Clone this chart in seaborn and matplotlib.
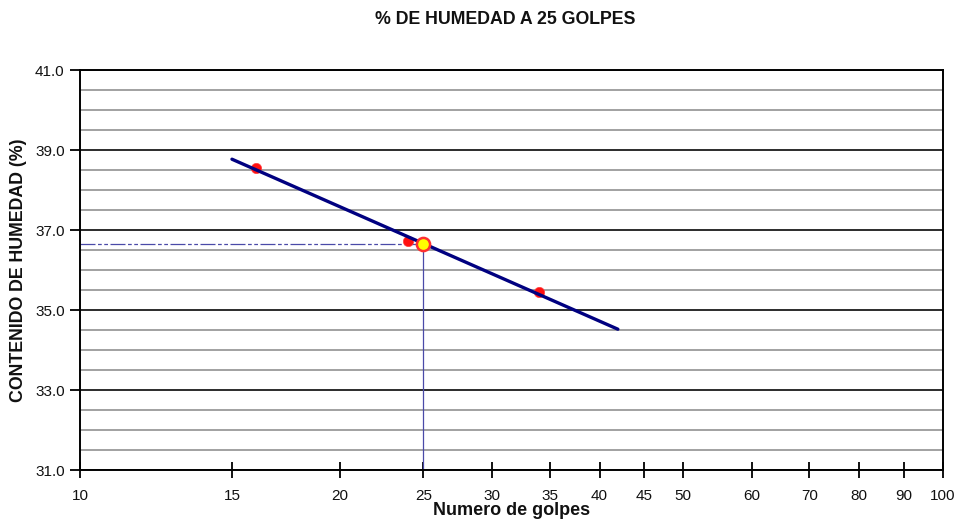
import matplotlib
matplotlib.use("Agg")
import matplotlib.pyplot as plt
import seaborn as sns
import pandas as pd
from matplotlib.ticker import FixedLocator, NullFormatter, NullLocator

# ---- data ----
golpes = [16, 24, 34]
humedad = [38.55, 36.72, 35.45]
trend_x = [15, 42]
trend_y = [38.77, 34.52]
target_x = [25]
target_y = [36.66]
x_ticks = [10, 15, 20, 25, 30, 35, 40, 45, 50, 60, 70, 80, 90, 100]
y_ticks = [31, 33, 35, 37, 39, 41]
y_minor = [31.5, 32, 32.5, 33.5, 34, 34.5, 35.5, 36, 36.5, 37.5, 38, 38.5, 39.5, 40, 40.5]

sns.set_theme(style="white")
plt.rcParams['font.family'] = ['Liberation Sans', 'DejaVu Sans']

fig = plt.figure(figsize=(9.58, 5.24), dpi=100)
ax = fig.add_axes([80/958, 1-470/524, (943-80)/958, 400/524])

ax.set_xscale('log')
ax.set_xlim(10, 100)
ax.set_ylim(31, 41)

# gridlines
for yv in y_minor:
    ax.axhline(yv, color='#9a9a9a', lw=1.3, zorder=1)
for yv in y_ticks:
    ax.axhline(yv, color='#2a2a2a', lw=1.4, zorder=1)

# guide lines to the 25-blow value
ax.plot([10, target_x[0]], [target_y[0], target_y[0]], color='#4a4aa8', lw=0.9,
        ls=(0, (12, 2, 3, 2, 3, 2)), zorder=2)
ax.plot([target_x[0], target_x[0]], [31, target_y[0]], color='#4a4aa8', lw=0.9, zorder=2)

df_pts = pd.DataFrame({'golpes': golpes, 'humedad': humedad})
df_fit = pd.DataFrame({'x': trend_x, 'y': trend_y})
df_tgt = pd.DataFrame({'x': target_x, 'y': target_y})

sns.scatterplot(data=df_pts, x='golpes', y='humedad', ax=ax, color='#ff1010',
                s=55, edgecolor='#ff4040', linewidth=0.5, zorder=3)
sns.lineplot(data=df_fit, x='x', y='y', ax=ax, color='#000080', lw=2.4, zorder=4)
sns.scatterplot(data=df_tgt, x='x', y='y', ax=ax, color='#ffff00', s=90,
                edgecolor='#ff3030', linewidth=1.8, zorder=5)

ax.xaxis.set_major_locator(FixedLocator(x_ticks))
ax.xaxis.set_minor_locator(NullLocator())
ax.xaxis.set_minor_formatter(NullFormatter())
ax.set_xticklabels([str(v) for v in x_ticks])
ax.yaxis.set_major_locator(FixedLocator(y_ticks))
ax.yaxis.set_minor_locator(NullLocator())
ax.set_yticklabels([f"{v:.1f}" for v in y_ticks])

ax.tick_params(axis='x', which='major', bottom=True, direction='inout', length=12, width=1.3,
               color='black', labelsize=11, pad=8, labelcolor='#111111')
ax.tick_params(axis='y', which='major', left=True, direction='out', length=7, width=1.3,
               color='black', labelsize=11, pad=4, labelcolor='#111111')

for sp in ax.spines.values():
    sp.set_visible(True)
    sp.set_color('black')
    sp.set_linewidth(1.4)

ax.set_xlabel('Numero de golpes', fontsize=13, fontweight='bold', labelpad=-1, color='#111111')
ax.set_ylabel('CONTENIDO DE HUMEDAD (%)', fontsize=12.8, fontweight='bold', labelpad=6, color='#111111')
fig.text(505/958, 1-20/524, '% DE HUMEDAD A 25 GOLPES', ha='center', va='center',
         fontsize=12.8, fontweight='bold', color='#111111')

fig.savefig('out.png', dpi=100)
